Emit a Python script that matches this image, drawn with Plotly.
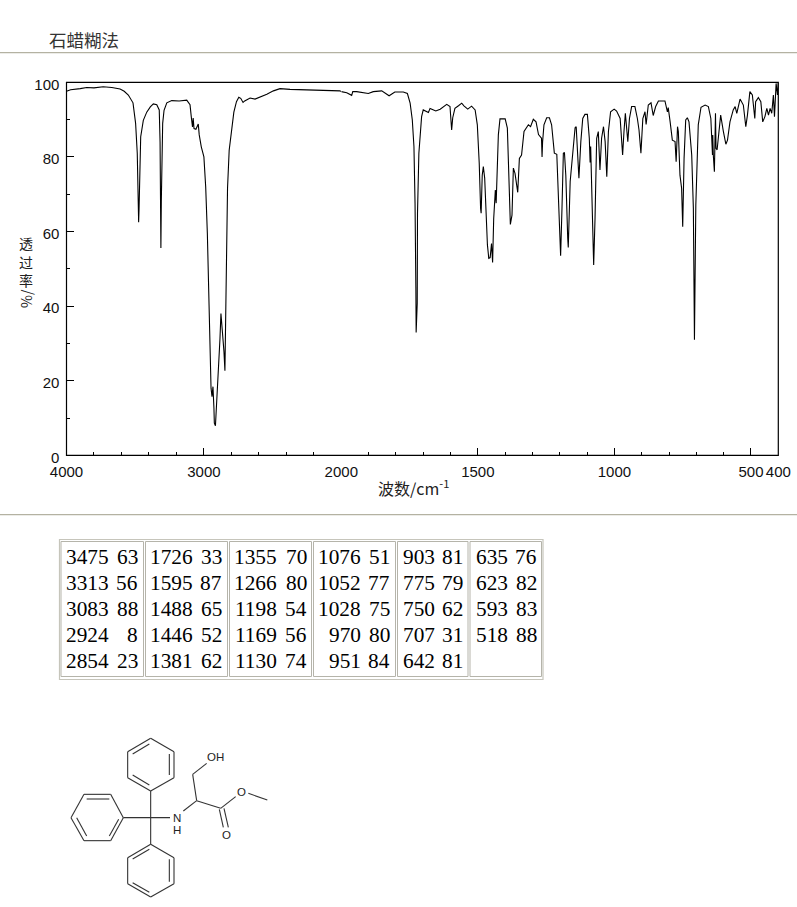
import plotly.graph_objects as go

W, H = 797, 907

# Spectrum, 4000-2000 cm-1
wn_high = [4000, 3970, 3900, 3853, 3800, 3733, 3670, 3610, 3580, 3550, 3516, 3497, 3485, 3479, 3477, 3475, 3472, 3470, 3460, 3441, 3416, 3390, 3368, 3343, 3325, 3319, 3316, 3313, 3310, 3305, 3300, 3290, 3270, 3234, 3180, 3125, 3101, 3092, 3085, 3083, 3078, 3072, 3058, 3041, 3034, 3019, 3000, 2987, 2975, 2965, 2958, 2951, 2948, 2941, 2934, 2927, 2924, 2916, 2907, 2897, 2890, 2883, 2876, 2868, 2859, 2854, 2847, 2843, 2835, 2828, 2816, 2799, 2782, 2763, 2746, 2732, 2715, 2703, 2664, 2628, 2579, 2542, 2494, 2446, 2373, 2300, 2230, 2155, 2106, 2060, 2010, 2000]
t_high = [97.6, 98.0, 98.3, 98.6, 98.5, 98.8, 98.6, 98.2, 97.6, 96.6, 94.5, 89.0, 81.0, 70.0, 64.0, 62.5, 66.0, 71.0, 85.4, 89.8, 92.0, 93.4, 94.2, 94.0, 92.6, 84.0, 70.0, 55.6, 68.0, 81.0, 89.0, 92.5, 94.5, 95.1, 95.0, 95.2, 94.0, 90.8, 88.0, 88.0, 90.4, 87.6, 87.4, 88.8, 85.9, 82.7, 80.0, 72.0, 59.6, 43.5, 33.0, 26.9, 18.0, 15.7, 18.4, 12.7, 8.6, 7.9, 14.0, 19.7, 25.0, 31.3, 38.0, 34.6, 29.6, 27.8, 22.7, 30.9, 50.0, 71.6, 81.8, 86.8, 92.0, 94.8, 96.0, 95.7, 94.6, 95.0, 95.8, 95.5, 96.2, 96.8, 97.7, 98.3, 98.1, 98.0, 98.0, 97.9, 97.9, 97.8, 97.7, 97.5]

# Spectrum, 2000-400 cm-1
wn_low = [2000, 1980, 1962, 1958, 1944, 1919, 1901, 1883, 1852, 1825, 1804, 1773, 1758, 1748, 1740, 1734, 1730, 1727, 1726, 1722, 1721, 1716, 1712, 1706, 1700, 1681, 1675, 1654, 1638, 1614, 1602, 1596, 1592, 1584, 1571, 1559, 1551, 1537, 1523, 1510, 1502, 1495, 1490, 1488, 1484, 1480, 1475, 1470, 1465, 1460, 1455, 1450, 1446, 1442, 1436, 1433, 1430, 1425, 1419, 1400, 1392, 1386, 1381, 1375, 1370, 1364, 1359, 1354, 1348, 1340, 1331, 1321, 1315, 1307, 1297, 1287, 1278, 1267, 1265, 1263, 1258, 1248, 1238, 1230, 1220, 1211, 1203, 1197, 1192, 1187, 1183, 1178, 1171, 1169, 1162, 1154, 1144, 1140, 1133, 1130, 1123, 1116, 1108, 1099, 1092, 1089, 1087, 1083, 1078, 1076, 1071, 1065, 1059, 1053, 1047, 1040, 1034, 1028, 1022, 1014, 1001, 992, 979, 970, 965, 960, 951, 945, 937, 925, 916, 910, 903, 896, 888, 884, 876, 866, 858, 849, 839, 815, 806, 803, 796, 788, 778, 774, 769, 766, 760, 754, 750, 745, 739, 733, 727, 717, 711, 707, 702, 699, 693, 683, 668, 656, 647, 641, 640, 638, 634, 630, 628, 624, 611, 601, 592, 586, 577, 565, 558, 552, 540, 528, 519, 513, 504, 495, 486, 483, 473, 464, 457, 449, 442, 436, 430, 424, 418, 414, 408, 403, 400]
t_low = [97.5, 97.2, 96.5, 97.5, 97.5, 97.3, 97.0, 97.5, 97.7, 96.4, 97.4, 97.4, 97.0, 94.4, 89.9, 82.7, 67.6, 45.0, 32.9, 40.8, 64.9, 81.0, 85.9, 90.8, 92.6, 91.9, 93.0, 92.3, 92.8, 94.1, 93.5, 87.2, 90.5, 93.0, 93.7, 94.4, 93.7, 92.8, 93.6, 92.6, 88.6, 78.3, 66.2, 64.9, 75.1, 77.4, 74.3, 66.2, 56.4, 52.8, 53.0, 56.8, 51.7, 63.5, 71.1, 67.6, 74.3, 85.9, 90.2, 90.2, 87.7, 75.1, 61.9, 64.4, 77.0, 75.6, 73.4, 70.5, 79.6, 80.5, 86.8, 88.1, 88.6, 88.1, 90.1, 89.4, 86.0, 85.0, 80.0, 84.0, 88.6, 90.5, 90.5, 88.6, 81.0, 80.7, 66.2, 53.5, 66.2, 81.0, 81.2, 75.1, 58.2, 55.7, 73.4, 80.5, 87.8, 88.1, 77.8, 74.3, 84.1, 90.3, 91.4, 91.4, 85.0, 78.5, 82.8, 72.5, 63.0, 51.0, 63.5, 85.0, 86.8, 76.5, 85.0, 88.1, 84.1, 74.7, 86.8, 92.1, 92.8, 92.3, 90.3, 80.5, 86.8, 91.7, 84.1, 90.3, 93.5, 93.5, 90.3, 87.2, 81.0, 90.3, 92.1, 88.7, 93.9, 94.5, 91.1, 93.5, 95.0, 95.0, 92.1, 93.2, 89.4, 84.5, 84.1, 78.7, 88.1, 86.8, 75.1, 71.6, 61.3, 79.6, 89.9, 90.5, 89.4, 80.5, 66.2, 31.0, 67.1, 75.1, 88.6, 93.3, 93.9, 93.5, 90.3, 80.5, 85.9, 80.5, 76.0, 91.7, 82.3, 81.9, 91.2, 86.8, 83.4, 84.5, 89.4, 92.6, 93.5, 91.7, 95.5, 93.9, 88.1, 91.2, 97.5, 96.6, 90.3, 94.8, 95.9, 94.8, 89.4, 90.8, 93.0, 91.2, 93.0, 91.7, 96.6, 90.8, 99.7, 96.6, 100.0]
assert len(wn_high) == len(t_high), (len(wn_high), len(t_high))
assert len(wn_low) == len(t_low), (len(wn_low), len(t_low))

# Peak table
table_wn = [
    ["3475", "3313", "3083", "2924", "2854"],
    ["1726", "1595", "1488", "1446", "1381"],
    ["1355", "1266", "1198", "1169", "1130"],
    ["1076", "1052", "1028", "970", "951"],
    ["903", "775", "750", "707", "642"],
    ["635", "623", "593", "518"],
]
table_t = [
    ["63", "56", "88", "8", "23"],
    ["33", "87", "65", "52", "62"],
    ["70", "80", "54", "56", "74"],
    ["51", "77", "75", "80", "84"],
    ["81", "79", "62", "31", "81"],
    ["76", "82", "83", "88"],
]

y_ticks = [0, 20, 40, 60, 80, 100]
x_ticks_high = [4000, 3000, 2000]
x_ticks_low = [1500, 1000, 500, 400]


def fx(p):
    return p / W


def fy(p):
    return 1 - p / H


L, M, R = 66.5, 341.3, 778.3
T, B = 82.3, 455.3
TICK_FONT = dict(family="Liberation Sans", size=15, color="#111")

fig = go.Figure()
fig.add_trace(go.Scatter(x=wn_high, y=t_high, mode="lines", xaxis="x", yaxis="y",
                         line=dict(color="black", width=1.1), showlegend=False, hoverinfo="skip"))
fig.add_trace(go.Scatter(x=wn_low, y=t_low, mode="lines", xaxis="x2", yaxis="y",
                         line=dict(color="black", width=1.1), showlegend=False, hoverinfo="skip"))

shapes = []
annotations = []


def line(x0, y0, x1, y1, color="#333", width=1):
    shapes.append(dict(type="line", xref="paper", yref="paper", x0=fx(x0), x1=fx(x1), y0=fy(y0), y1=fy(y1),
                       line=dict(color=color, width=width), layer="above"))


def rect(x0, y0, x1, y1, color, width=1):
    shapes.append(dict(type="rect", xref="paper", yref="paper", x0=fx(x0), x1=fx(x1), y0=fy(y0), y1=fy(y1),
                       line=dict(color=color, width=width), layer="above"))


def text(x, y, s, size, color="black", family="Liberation Serif", xa="center", ya="middle", angle=0):
    annotations.append(dict(xref="paper", yref="paper", x=fx(x), y=fy(y), text=s, showarrow=False,
                            xanchor=xa, yanchor=ya, textangle=angle,
                            font=dict(size=size, color=color, family=family), borderpad=0, borderwidth=0))


# page furniture
RULE = "#b4b2a2"
line(0, 52.7, W, 52.7, RULE, 1.2)
line(0, 514.7, W, 514.7, RULE, 1.2)
text(49, 39.5, "石蜡糊法", 17.5, "#333", "Noto Sans CJK SC", xa="left")

# frame of the plot
rect(L, T, R, B, "black", 1.2)

# axis titles
for i, ch in enumerate("透过率"):
    text(26, 243 + i * 18.7, ch, 14, "#222", "Noto Sans CJK SC")
text(26, 299, "%/", 14, "#222", "Noto Sans CJK SC", angle=-90)
text(414, 488, "波数/cm<sup>-1</sup>", 16, "#222", "Noto Sans CJK SC")

# peak table
rect(59.5, 539.5, 543, 679.5, "#c6c5bb", 1.2)
cells = [(61, 143.5), (145.5, 227.5), (229.5, 311.5), (313.5, 395.5), (397.5, 468), (470, 541.5)]
ends_wn = [108.7, 193.3, 277.3, 361.3, 434.7, 507.7]
ends_t = [138.3, 222, 306.7, 390, 463.3, 536.7]
for (c0, c1) in cells:
    rect(c0, 541.5, c1, 676.5, "#b5b4aa", 1)
for col in range(len(table_wn)):
    for row in range(len(table_wn[col])):
        yy = 556.7 + row * 26
        text(ends_wn[col], yy, table_wn[col][row], 21.3, xa="right")
        text(ends_t[col], yy, table_t[col][row], 21.3, xa="right")


# structure (crop coordinates scaled to the page)
def mx(v):
    return 60 + v / 3


def my(v):
    return 730 + v / 3


def bond(a, b, c, d):
    line(mx(a), my(b), mx(c), my(d), "#333", 1.1)


def ring(verts, inner):
    for i in range(6):
        a, b = verts[i]
        c, d = verts[(i + 1) % 6]
        bond(a, b, c, d)
    for seg in inner:
        bond(*seg)


ring([(272, 25), (342, 65), (342, 143), (272, 183), (203, 143), (203, 65)],
     [(218, 72, 268, 42), (328, 72, 328, 135), (218, 135, 268, 165)])
ring([(72, 193), (152, 193), (190, 263), (152, 332), (72, 332), (33, 263)],
     [(80, 207, 148, 207), (50, 263, 80, 318), (148, 318, 176, 268)])
ring([(272, 343), (342, 383), (342, 461), (272, 501), (203, 461), (203, 383)],
     [(218, 387, 268, 358), (328, 388, 328, 455), (218, 458, 268, 487)])
bond(272, 183, 272, 343)
bond(190, 263, 330, 263)
bond(370, 243, 410, 212)
bond(410, 212, 398, 133)
bond(398, 133, 440, 100)
bond(410, 212, 482, 235)
bond(478, 238, 490, 292)
bond(492, 235, 505, 292)
bond(482, 235, 527, 200)
bond(565, 190, 622, 210)
ATOM = dict(size=11.5, color="#222", family="Liberation Sans")
text(mx(465), my(82), "OH", **ATOM)
text(mx(350), my(263), "N", **ATOM)
text(mx(350), my(300), "H", **ATOM)
text(mx(545), my(187), "O", **ATOM)
text(mx(498), my(315), "O", **ATOM)


def axis_style(**kw):
    base = dict(ticks="inside", ticklen=7, tickcolor="black", tickwidth=1, tickangle=0, automargin=False,
                showgrid=False, zeroline=False, showline=True, linecolor="black", linewidth=1.2,
                tickfont=TICK_FONT, tickmode="array")
    base.update(kw)
    return base


def minor(step):
    return dict(dtick=step, ticks="inside", ticklen=3.5, tickcolor="black", tickwidth=1, showgrid=False)


fig.update_layout(
    width=W, height=H, margin=dict(l=0, r=0, t=0, b=0, pad=0), autosize=False,
    paper_bgcolor="white", plot_bgcolor="white", showlegend=False,
    xaxis=axis_style(domain=[fx(L), fx(M)], range=[4000, 2000], anchor="y", tickvals=x_ticks_high,
                     ticktext=[str(v) for v in x_ticks_high], minor=minor(200), ticklabelstandoff=3),
    xaxis2=axis_style(domain=[fx(M), fx(R)], range=[2000, 400], anchor="y", tickvals=x_ticks_low,
                      ticktext=[str(v) for v in x_ticks_low], minor=minor(100), ticklabelstandoff=3),
    yaxis=axis_style(domain=[fy(B), fy(T)], range=[0, 100], anchor="x", tickvals=y_ticks,
                     ticktext=[str(v) for v in y_ticks], minor=minor(10),
                     ticklabelstandoff=3, ticklabelshift=2),
    shapes=shapes, annotations=annotations,
)

fig.write_html("out.html", config={"displayModeBar": False},
               post_script="document.body.style.margin='0';document.body.style.overflow='hidden';")
